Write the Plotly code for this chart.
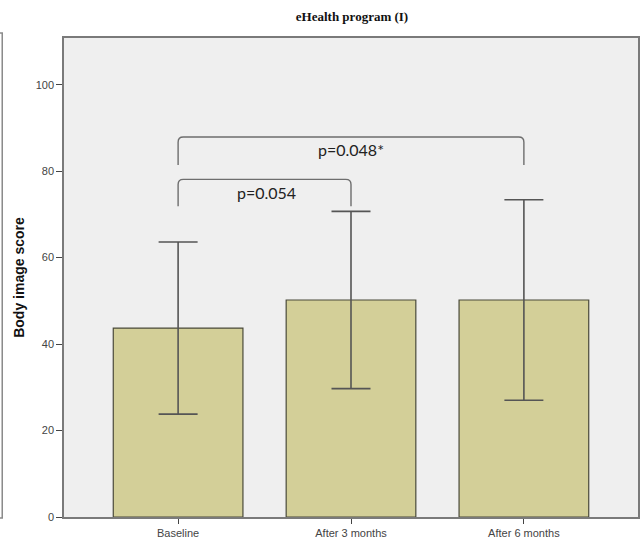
import plotly.graph_objects as go

# Body image score by time point: mean and standard deviation
categories = ["Baseline", "After 3 months", "After 6 months"]
means = [43.7, 50.2, 50.2]
sds = [19.9, 20.5, 23.2]
y_ticks = [0, 20, 40, 60, 80, 100]

# Pairwise comparisons: (from index, to index, bracket top, bracket foot, label)
comparisons = [
    (0, 1, 78.1, 71.9, "p=0.054"),
    (0, 2, 87.9, 81.4, "p=0.048*"),
]

x_pos = list(range(len(categories)))

fig = go.Figure()
fig.add_trace(go.Bar(
    x=x_pos,
    y=means,
    width=0.75,
    marker=dict(color="#d3cf98", line=dict(color="#4a4a3a", width=1.2)),
    error_y=dict(type="data", array=sds, visible=True,
                 color="#555555", thickness=1.6, width=19.5),
    hoverinfo="skip",
))

shapes = []
rx, ry = 0.03, 1.2
for i0, i1, top, foot, _ in comparisons:
    x0, x1 = x_pos[i0], x_pos[i1]
    path = (f"M {x0},{foot} L {x0},{top - ry} Q {x0},{top} {x0 + rx},{top} "
            f"L {x1 - rx},{top} Q {x1},{top} {x1},{top - ry} L {x1},{foot}")
    shapes.append(dict(type="path", path=path, xref="x", yref="y",
                       line=dict(color="#6e6e6e", width=1.4)))

# Outer frame edge along the left of the figure
shapes.append(dict(type="path", xref="paper", yref="paper",
                   path="M -0.112,1.0104 L -0.1076,1.0104 L -0.1076,-0.002 L -0.112,-0.002",
                   line=dict(color="#8a8a8a", width=1.5)))

fig.update_layout(shapes=shapes)

annotations = []
text_x = {"p=0.054": 0.513, "p=0.048*": 1.0}
text_y = {"p=0.054": 75.0, "p=0.048*": 84.9}
for _, _, _, _, label in comparisons:
    annotations.append(dict(x=text_x[label], y=text_y[label], xref="x", yref="y",
                            text=label, showarrow=False,
                            font=dict(family="Lato, Open Sans, sans-serif",
                                      size=16, color="#222")))
fig.update_layout(annotations=annotations)

fig.update_layout(
    width=642, height=544,
    margin=dict(l=64, r=2, t=38, b=27),
    paper_bgcolor="white",
    plot_bgcolor="#efefef",
    showlegend=False,
    title=dict(text="<b>eHealth program (I)</b>",
               font=dict(family="Liberation Serif, DejaVu Serif, serif",
                         size=13, color="#111"),
               x=352 / 642, xanchor="center", y=0.97, yanchor="middle"),
    xaxis=dict(
        range=[-0.66, 2.66], tickvals=x_pos, ticktext=categories,
        showgrid=False, zeroline=False,
        showline=True, linecolor="#7a7a7a", linewidth=1.5, mirror=True,
        ticks="outside", ticklen=5, tickcolor="#444", tickwidth=1,
        tickfont=dict(family="Liberation Sans, Arial, sans-serif", size=11, color="#444"),
    ),
    yaxis=dict(
        range=[0, 110.8], tickvals=y_ticks,
        showgrid=False, zeroline=False,
        showline=True, linecolor="#7a7a7a", linewidth=1.5, mirror=True,
        ticks="outside", ticklen=6, tickcolor="#444", tickwidth=1,
        tickfont=dict(family="Liberation Sans, Arial, sans-serif", size=11, color="#444"),
        title=dict(text="<b>Body image score</b>", standoff=8,
                   font=dict(family="Liberation Sans, Arial, sans-serif",
                             size=14, color="#111")),
    ),
)

fig.write_html("out.html")
